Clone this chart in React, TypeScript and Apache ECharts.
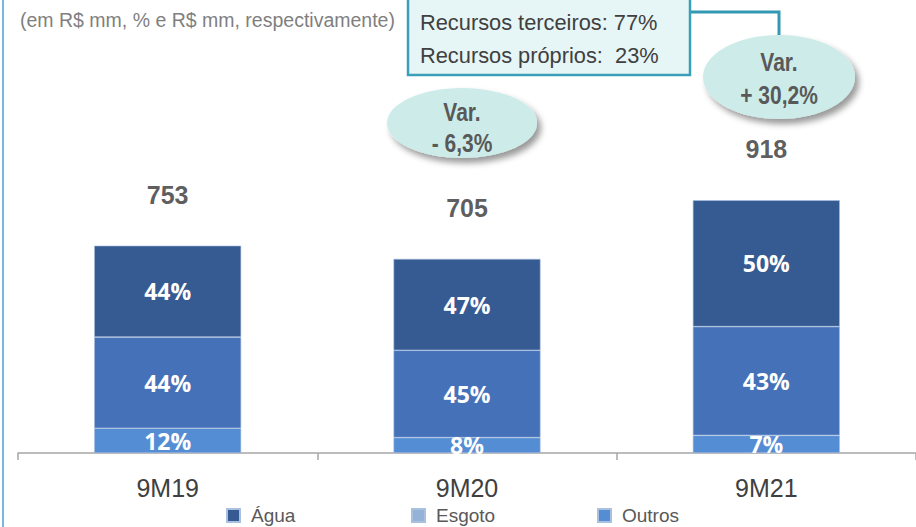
import React, { useEffect, useRef } from "react";
import * as echarts from "echarts";

const categories = ["9M19", "9M20", "9M21"];
const outros = [90, 56, 64];
const esgoto = [331, 317, 395];
const agua = [332, 332, 459];
const totals = categories.map((_, i) => outros[i] + esgoto[i] + agua[i]);
const varLabels = ["- 6,3%", "+ 30,2%"];
const noteText = "(em R$ mm, % e R$ mm, respectivamente)";
const boxLines = ["Recursos terceiros: 77%", "Recursos próprios:  23%"];

const ARIAL = "'Liberation Sans', Arial, sans-serif";
const PCT_FONT = "'Open Sans', 'Noto Sans', sans-serif";

export default function App() {
  const ref = useRef<HTMLDivElement>(null);
  useEffect(() => {
    if (!ref.current) return;
    const chart = echarts.init(ref.current, null, { renderer: "svg" });
    const pct = (p: any) => Math.round((p.value / totals[p.dataIndex]) * 100) + "%";
    const pctLabel = {
      show: true,
      position: "inside" as const,
      formatter: pct,
      color: "#ffffff",
      fontFamily: PCT_FONT,
      fontWeight: "bold" as const,
      fontSize: 23,
    };
    const ellipse = (cx: number, cy: number, rx: number, ry: number) => ({
      type: "ellipse",
      shape: { cx, cy, rx, ry },
      style: {
        fill: "#cdece9",
        shadowBlur: 6,
        shadowOffsetX: 4,
        shadowOffsetY: 5,
        shadowColor: "rgba(0,0,0,0.4)",
      },
      z: 10,
    });
    const vtext = (x: number, y: number, text: string) => ({
      type: "text",
      z: 11,
      x,
      y,
      scaleX: 0.84,
      style: {
        text,
        x: 0,
        y: 0,
        fill: "#595959",
        fontFamily: ARIAL,
        fontWeight: "bold",
        fontSize: 25,
        textAlign: "center",
        textVerticalAlign: "middle",
      },
    });
    const legendBase = (name: string, left: number) => ({
      show: true,
      left,
      top: 506,
      data: [name],
      itemWidth: 13,
      itemHeight: 13,
      icon: "rect",
      padding: 0,
      textStyle: {
        color: "#595959",
        fontFamily: ARIAL,
        fontSize: 19,
        padding: [0, 0, 0, 6],
      },
    });
    chart.setOption({
      animation: false,
      grid: { left: 18, right: -6, top: 40, bottom: 74 },
      legend: [
        { ...legendBase("Água", 226) },
        { ...legendBase("Esgoto", 411), data: [{ name: "Esgoto", itemStyle: { color: "#95b3d7" } }] },
        { ...legendBase("Outros", 597) },
      ],
      xAxis: {
        type: "category",
        data: categories,
        axisLine: { lineStyle: { color: "#a6a6a6", width: 1.5 } },
        axisTick: { show: true, length: 7, lineStyle: { color: "#a6a6a6", width: 1.5 } },
        axisLabel: { color: "#404040", fontFamily: ARIAL, fontSize: 25, margin: 22 },
      },
      yAxis: { type: "value", min: 0, max: 1500, show: false },
      series: [
        {
          name: "Outros",
          type: "bar",
          stack: "a",
          barWidth: 147,
          data: outros,
          itemStyle: { color: "#548dd4", borderColor: "#a9c0df", borderWidth: 0.6 },
          label: pctLabel,
        },
        {
          name: "Esgoto",
          type: "bar",
          stack: "a",
          barWidth: 147,
          data: esgoto,
          itemStyle: { color: "#4571b9", borderColor: "#a9c0df", borderWidth: 0.6 },
          label: pctLabel,
        },
        {
          name: "Água",
          type: "bar",
          stack: "a",
          barWidth: 147,
          data: agua,
          itemStyle: { color: "#365a92", borderColor: "#a9c0df", borderWidth: 0.6 },
          label: pctLabel,
        },
        {
          name: "Total",
          type: "scatter",
          data: totals,
          symbolSize: 1,
          itemStyle: { color: "rgba(0,0,0,0)" },
          label: {
            show: true,
            position: "top",
            distance: 38,
            color: "#333333",
            fontFamily: ARIAL,
            fontWeight: "bold",
            fontSize: 25,
          },
          z: 5,
        },
      ],
      graphic: [
        {
          type: "line",
          shape: { x1: 3, y1: 0, x2: 3, y2: 527 },
          style: { stroke: "#4aa0d6", lineWidth: 1.5 },
        },
        {
          type: "text",
          style: {
            text: noteText,
            x: 20,
            y: 20,
            fill: "#7f7f7f",
            fontFamily: ARIAL,
            fontSize: 19.5,
            textVerticalAlign: "middle",
          },
        },
        {
          type: "polyline",
          shape: { points: [[690, 12], [779, 12], [779, 38]] },
          style: { stroke: "#3399b3", lineWidth: 3, fill: null },
          z: 9,
        },
        {
          type: "rect",
          shape: { x: 408, y: -3, width: 282, height: 78 },
          style: { fill: "#e6f5f5", stroke: "#3aa0b7", lineWidth: 2.5 },
          z: 9,
        },
        {
          type: "text",
          z: 10,
          style: {
            text: boxLines[0],
            x: 420,
            y: 22,
            fill: "#404040",
            fontFamily: ARIAL,
            fontSize: 21.8,
            textVerticalAlign: "middle",
          },
        },
        {
          type: "text",
          z: 10,
          style: {
            text: boxLines[1],
            x: 420,
            y: 55,
            fill: "#404040",
            fontFamily: ARIAL,
            fontSize: 21.8,
            textVerticalAlign: "middle",
          },
        },
        ellipse(462, 123, 75, 35),
        vtext(462, 112, "Var."),
        vtext(462, 143, varLabels[0]),
        ellipse(779, 77, 76, 42),
        vtext(779, 62, "Var."),
        vtext(779, 95, varLabels[1]),
      ],
    });
    return () => chart.dispose();
  }, []);
  return <div ref={ref} style={{ width: 916, height: 527, position: "absolute", left: 0, top: 0 }} />;
}
